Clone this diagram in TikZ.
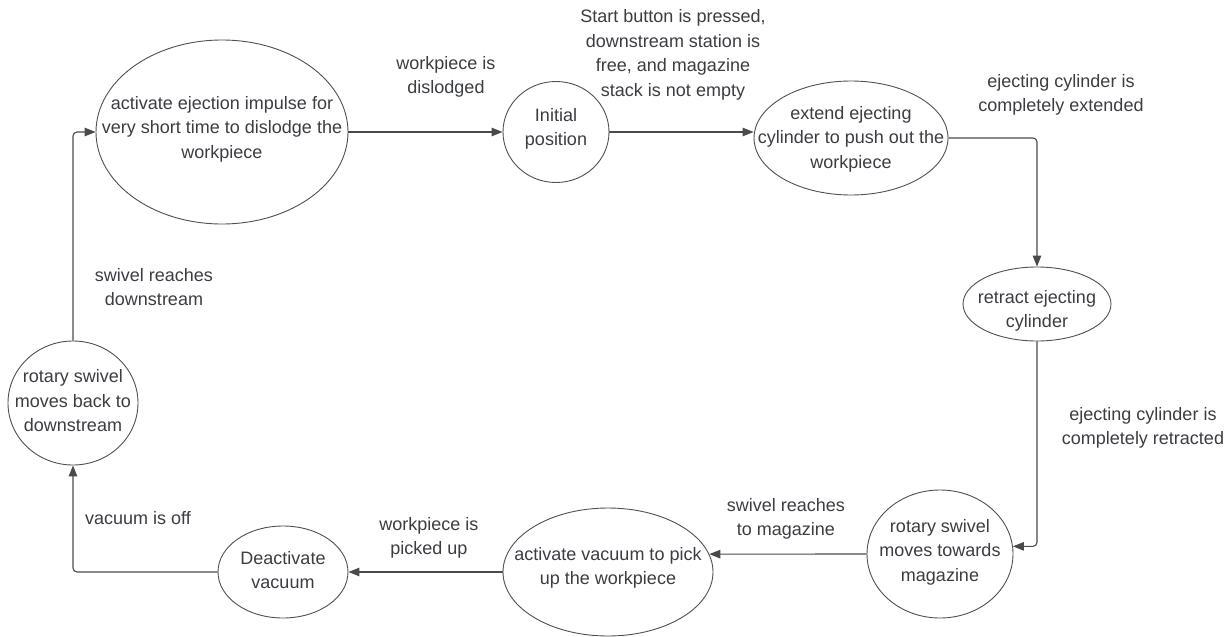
\documentclass[tikz,border=0pt]{standalone}
\usepackage{fontspec}
\setmainfont{Liberation Sans}
\usetikzlibrary{shapes.geometric,arrows.meta,calc}

\definecolor{ink}{HTML}{3A3D42}
\definecolor{edge}{HTML}{4A4A4A}
\definecolor{rim}{HTML}{505050}

\tikzset{
  state/.style={ellipse, draw=rim, line width=0.9pt, inner sep=0pt},
  txt/.style={text=ink, font=\fontsize{18}{24.5}\selectfont, align=center, inner sep=0pt},
  flow/.style={draw=edge, line width=1.1pt, rounded corners=4pt,
               -{Triangle[length=11pt,width=8.5pt]}},
}

\begin{document}
\begin{tikzpicture}[x=1pt,y=-1pt]
\fill[white] (0,0) rectangle (1224,637);
\useasboundingbox (0,0) rectangle (1224,637);

% states (outlines)
\node[state, minimum width=252pt, minimum height=184pt] (A) at (222,132) {};
\node[state, minimum width=106pt, minimum height=101pt] (B) at (556,132) {};
\node[state, minimum width=194pt, minimum height=114pt] (C) at (851,138) {};
\node[state, minimum width=148pt, minimum height=74pt]  (D) at (1037,304) {};
\node[state, minimum width=146pt, minimum height=128pt] (E) at (940,554) {};
\node[state, minimum width=210pt, minimum height=128pt] (F) at (608,572) {};
\node[state, minimum width=130pt, minimum height=92pt]  (G) at (283,572) {};
\node[state, minimum width=130pt, minimum height=124pt] (H) at (73,403) {};

% state texts
\node[txt] (At) at (222,129) {activate ejection impulse for\\very short time to dislodge the\\workpiece};
\node[txt] (Bt) at (556,129) {Initial\\position};
\node[txt] (Ct) at (851,139) {extend ejecting\\cylinder to push out the\\workpiece};
\node[txt] (Dt) at (1037,311) {retract ejecting\\cylinder};
\node[txt] (Et) at (940,552) {rotary swivel\\moves towards\\magazine};
\node[txt] (Ft) at (608,568) {activate vacuum to pick\\up the workpiece};
\node[txt] (Gt) at (283,570) {Deactivate\\vacuum};
\node[txt] (Ht) at (73,401) {rotary swivel\\moves back to\\downstream};

% transitions
\draw[flow] (A.east) -- (B.west);
\draw[flow] (B.east) -- (B.east -| C.west);
\draw[flow] (C.east) -| (D.north);
\draw[flow] (D.south) |- (E.6);
\draw[flow] (E.west) -- (F.10);
\draw[flow] (F.west) -- (G.east);
\draw[flow] (G.west) -| (H.south);
\draw[flow] (H.north) |- (A.west);

% transition conditions
\node[txt] (L1) at (446,77)  {workpiece is\\dislodged};
\node[txt] (L2) at (673,55)  {Start button is pressed,\\downstream station is\\free, and magazine\\stack is not empty};
\node[txt] (L3) at (1061,95) {ejecting cylinder is\\completely extended};
\node[txt] (L4) at (1143,428) {ejecting cylinder is\\completely retracted};
\node[txt] (L5) at (786,519) {swivel reaches\\to magazine};
\node[txt] (L6) at (429,538) {workpiece is\\picked up};
\node[txt] (L7) at (138,518) {vacuum is off};
\node[txt] (L8) at (154,287) {swivel reaches\\downstream};
\end{tikzpicture}
\end{document}
